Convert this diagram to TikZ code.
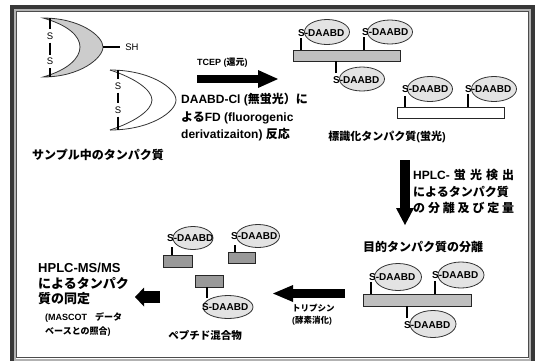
\documentclass[tikz,border=0pt]{standalone}
\usepackage{fontspec}
\setmainfont{Liberation Sans}
\newfontfamily\jpf{Noto Sans CJK JP}
\newcommand\J[1]{{\jpf #1}}
\usetikzlibrary{arrows.meta,shapes.geometric}
\tikzset{
  lbl/.style={font=\bfseries\fontsize{12}{14}\selectfont, inner sep=0pt, anchor=west},
  biglbl/.style={font=\bfseries\fontsize{13}{15}\selectfont, inner sep=0pt, anchor=west},
  smalllbl/.style={font=\bfseries\fontsize{9}{11}\selectfont, inner sep=0pt, anchor=west},
  tag/.style={ellipse, draw=black!80, fill=gray!22, line width=0.8pt, inner sep=0pt},
  dtext/.style={font=\bfseries\fontsize{10}{12}\selectfont, inner sep=0pt, anchor=west},
  stick/.style={line width=2.2pt, black},
  bar/.style={draw=black!85, line width=0.8pt, fill=gray!50, inner sep=0pt},
  pep/.style={draw=black!85, line width=0.8pt, fill=gray!80, inner sep=0pt},
  bond/.style={line width=2.6pt, black},
  satom/.style={font=\fontsize{9.5}{10}\selectfont, inner sep=0pt, minimum height=13pt},
  crest/.style={draw=black!80, line width=0.8pt},
  fat/.style={draw=black, line width=#1},
}
\begin{document}
\begin{tikzpicture}[x=1pt,y=-1pt]
\useasboundingbox (0,0) rectangle (536,360);

% double frame
\draw[line width=4pt, black!78] (12,7) rectangle (533,364);
\draw[line width=2pt, black!30] (15,10) rectangle (530,360);
\draw[line width=0.8pt, black!70] (16.5,11.5) rectangle (528.5,357);

% ---- protein in the sample: oxidised (grey) and reduced forms
\draw[crest, fill=gray!40] (43,18) .. controls (80,18) and (103,36) .. (103,47)
  .. controls (103,58) and (80,77) .. (43,77)
  .. controls (68,70) and (80,58) .. (80,47)
  .. controls (80,36) and (68,25) .. (43,18) -- cycle;
\coordinate (gt) at (50,18);
\coordinate (gb) at (50,77);
\node[satom] (gs1) at (50,36) {S};
\node[satom] (gs2) at (50,61.5) {S};
\draw[bond] (gt) -- (gs1.north);
\draw[bond] (gs1.south) -- (gs2.north);
\draw[bond] (gs2.south) -- (gb);
\coordinate (shl) at (103,47);
\node[satom] (sh) at (132,47) {SH};
\draw[bond] (shl) -- (120,47);

\draw[crest] (110,70) .. controls (150,70) and (176,88) .. (176,100)
  .. controls (176,112) and (150,130) .. (110,130);
\draw[crest] (110,70) .. controls (135,78) and (152,90) .. (152,100)
  .. controls (152,110) and (135,122) .. (110,130);
\coordinate (wt) at (118,70);
\coordinate (wb) at (118,130);
\node[satom] (ws1) at (118,86) {S};
\node[satom] (ws2) at (118,110) {S};
\draw[bond] (wt) -- (ws1.north);
\draw[bond] (ws1.south) -- (ws2.north);
\draw[bond] (ws2.south) -- (wb);

\node[lbl, anchor=center] (sample) at (98,155) {\J{サンプル中のタンパク質}};

% ---- labelling step
\node[smalllbl] (tcep) at (197,63) {TCEP (\J{還元})};
\coordinate (a1s) at (197,79);
\coordinate (a1e) at (278,79);
\draw[fat=8pt, -{Triangle[length=20pt,width=18pt,line width=0pt]}] (a1s) -- (a1e);
\node[lbl] (fd1) at (181,100) {DAABD-Cl (\J{無蛍光）に}};
\node[lbl] (fd2) at (181,117.5) {\J{よる}FD (fluorogenic};
\node[lbl] (fd3) at (181,134.5) {derivatizaiton)\ \J{反応}};

% ---- labelled protein (grey backbone)
\node[bar, minimum width=107pt, minimum height=11pt] (p1) at (346.5,55.5) {};
\node[tag, minimum width=45pt, minimum height=25pt] (e1) at (327,32) {};
\node[tag, minimum width=45pt, minimum height=24pt] (e2) at (390,32) {};
\node[tag, minimum width=45pt, minimum height=24pt] (e3) at (362,79) {};
\node[dtext] (d1) at (298,33) {S-DAABD};
\node[dtext] (d2) at (362,32) {S-DAABD};
\node[dtext] (d3) at (333,80.5) {S-DAABD};
\coordinate (k1) at (301,38);
\coordinate (k2) at (364,37);
\coordinate (k3) at (336,73);
\draw[stick] (k1) -- (k1 |- p1.north);
\draw[stick] (k2) -- (k2 |- p1.north);
\draw[stick] (k3) -- (k3 |- p1.south);

% ---- labelled protein (white backbone)
\node[bar, fill=white, minimum width=107pt, minimum height=11pt] (p2) at (450.5,112.5) {};
\node[tag, minimum width=45pt, minimum height=25pt] (e4) at (430,89) {};
\node[tag, minimum width=45pt, minimum height=25pt] (e5) at (494,89) {};
\node[dtext] (d4) at (402,89.5) {S-DAABD};
\node[dtext] (d5) at (465,89.5) {S-DAABD};
\coordinate (k4) at (405,96);
\coordinate (k5) at (468,94);
\draw[stick] (k4) -- (k4 |- p2.north);
\draw[stick] (k5) -- (k5 |- p2.north);

\node[lbl, font=\bfseries\fontsize{11}{13}\selectfont, anchor=center] (labelled) at (387,137) {\J{標識化タンパク質}(\J{蛍光})};

% ---- HPLC separation
\coordinate (a2s) at (405,160);
\coordinate (a2e) at (405,225);
\draw[fat=10pt, -{Triangle[length=17pt,width=18pt,line width=0pt]}] (a2s) -- (a2e);
\node[lbl] (h1) at (413,175) {\makebox[101pt][s]{HPLC-\ \J{蛍} \J{光} \J{検} \J{出}}};
\node[lbl] (h2) at (413,191.5) {\makebox[101pt][s]{\J{によるタンパク質}}};
\node[lbl] (h3) at (413,207.5) {\makebox[101pt][s]{\J{の} \J{分} \J{離} \J{及} \J{び} \J{定} \J{量}}};

\node[lbl, anchor=center] (target) at (423,247) {\J{目的タンパク質の分離}};

% ---- isolated target protein
\node[bar, minimum width=108pt, minimum height=12pt] (p3) at (417,300) {};
\node[tag, minimum width=47pt, minimum height=27pt] (e6) at (398,277) {};
\node[tag, minimum width=46pt, minimum height=26pt] (e7) at (461,275) {};
\node[tag, minimum width=46pt, minimum height=27pt] (e8) at (433,324) {};
\node[dtext] (d6) at (369,277.5) {S-DAABD};
\node[dtext] (d7) at (432,275.5) {S-DAABD};
\node[dtext] (d8) at (404,325) {S-DAABD};
\coordinate (k6) at (371,282);
\coordinate (k7) at (435,281);
\coordinate (k8) at (407,318);
\draw[stick] (k6) -- (k6 |- p3.north);
\draw[stick] (k7) -- (k7 |- p3.north);
\draw[stick] (k8) -- (k8 |- p3.south);

% ---- tryptic digestion
\coordinate (a3s) at (345,293.5);
\coordinate (a3e) at (273,293.5);
\draw[fat=9pt, -{Triangle[length=20pt,width=17pt,line width=0pt]}] (a3s) -- (a3e);
\node[smalllbl, font=\bfseries\fontsize{8.5}{10}\selectfont] (tr1) at (292,308) {\J{トリプシン}};
\node[smalllbl, font=\bfseries\fontsize{8.5}{10}\selectfont] (tr2) at (292,321) {(\J{酵素消化})};

% ---- peptide mixture
\node[pep, minimum width=29pt, minimum height=12pt] (r1) at (177.5,261) {};
\node[pep, minimum width=27pt, minimum height=11pt] (r2) at (241.5,257.5) {};
\node[pep, minimum width=28pt, minimum height=12pt] (r3) at (209,281) {};
\node[tag, minimum width=40pt, minimum height=23pt] (e9) at (193,238) {};
\node[tag, minimum width=43pt, minimum height=23pt] (e10) at (258,236) {};
\node[tag, minimum width=50pt, minimum height=23pt] (e11) at (228,307) {};
\node[dtext] (d9) at (167,238.5) {S-DAABD};
\node[dtext] (d10) at (231,236.5) {S-DAABD};
\node[dtext] (d11) at (202,307) {S-DAABD};
\coordinate (k9) at (172,247);
\coordinate (k10) at (235,245);
\coordinate (k11) at (207,298);
\draw[stick] (k9) -- (k9 |- r1.north);
\draw[stick] (k10) -- (k10 |- r2.north);
\draw[stick] (k11) -- (k11 |- r3.south);
\node[lbl, font=\bfseries\fontsize{10.5}{12}\selectfont, anchor=center] (mix) at (205,335) {\J{ペプチド混合物}};

% ---- identification by HPLC-MS/MS
\coordinate (a4s) at (160,297);
\coordinate (a4e) at (135,297);
\draw[fat=12pt, -{Triangle[length=9pt,width=19pt,line width=0pt]}] (a4s) -- (a4e);
\node[biglbl] (m1) at (38,268) {HPLC-MS/MS};
\node[biglbl] (m2) at (38,283.5) {\J{によるタンパク}};
\node[biglbl] (m3) at (38,299) {\J{質の同定}};
\node[smalllbl] (m4) at (45,317) {(MASCOT\hspace{8pt}\J{データ}};
\node[smalllbl] (m5) at (45,332) {\J{ベースとの照合})};
\end{tikzpicture}
\end{document}
